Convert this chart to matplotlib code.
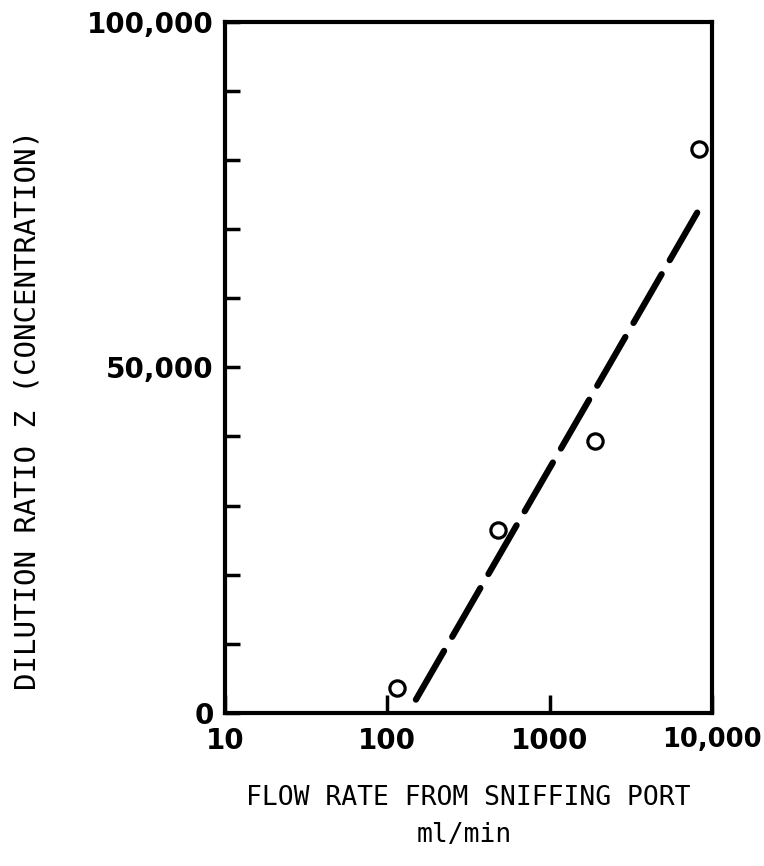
import matplotlib.pyplot as plt
from matplotlib.ticker import FixedLocator, NullLocator

# measured points
flow_rate = [115, 480, 1900, 8300]
dilution = [3600, 26500, 39400, 81600]

# fitted line (end points)
fit_flow = [150, 8100]
fit_dilution = [1900, 72400]

x_ticks = [10, 100, 1000, 10000]
x_labels = ['10', '100', '1000', '10,000']
y_ticks = [0, 10000, 20000, 30000, 40000, 50000, 60000, 70000, 80000, 90000, 100000]
y_labels = ['0', '', '', '', '', '50,000', '', '', '', '', '100,000']


def plot_data():
    fig = plt.figure(figsize=(7.64, 8.66), dpi=100)
    ax = fig.add_axes([0.2945, 0.177, 0.6375, 0.7976])

    ax.plot(fit_flow, fit_dilution, color='black', linewidth=4.5,
            linestyle=(0, (9, 2.6)), dash_capstyle='round')
    ax.plot(flow_rate, dilution, 'o', markersize=11, markerfacecolor='white',
            markeredgecolor='black', markeredgewidth=2.3, linestyle='none')

    ax.set_xscale('log')
    ax.set_xlim(10, 10000)
    ax.set_ylim(0, 100000)

    ax.xaxis.set_major_locator(FixedLocator(x_ticks))
    ax.xaxis.set_minor_locator(NullLocator())
    ax.set_xticklabels(x_labels)
    ax.yaxis.set_major_locator(FixedLocator(y_ticks))
    ax.set_yticklabels(y_labels)

    for lab in ax.get_xticklabels() + ax.get_yticklabels():
        lab.set_fontfamily('DejaVu Sans')
        lab.set_fontweight('bold')
        lab.set_fontsize(20)
    # keep the last x label inside the figure
    ax.get_xticklabels()[-1].set_fontsize(18.5)

    ax.tick_params(axis='x', direction='in', length=13, width=2.5, pad=10)
    ax.tick_params(axis='y', direction='in', length=11, width=2.5, pad=8)

    for sp in ax.spines.values():
        sp.set_linewidth(3)

    label_font = dict(family='DejaVu Sans Mono', size=19)
    ax.set_xlabel('FLOW RATE FROM SNIFFING PORT', labelpad=22, **label_font)
    fig.text(0.036, 0.527, 'DILUTION RATIO Z (CONCENTRATION)', rotation=90,
             ha='center', va='center', family='DejaVu Sans Mono', size=21)
    fig.text(0.608, 0.036, 'ml/min', ha='center', va='center', **label_font)

    fig.savefig('out.png', dpi=100)


if __name__ == "__main__":
    plot_data()
